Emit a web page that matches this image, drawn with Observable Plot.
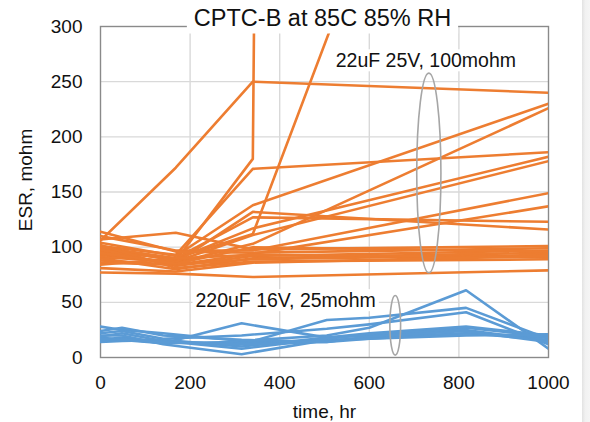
<!DOCTYPE html>
<html>
<head>
<meta charset="utf-8">
<script src="https://cdn.jsdelivr.net/npm/d3@7"></script>
<script src="https://cdn.jsdelivr.net/npm/@observablehq/plot@0.6"></script>
<style>
  html, body { margin: 0; padding: 0; background: #fff; }
  #chart { position: relative; width: 590px; height: 422px; overflow: hidden; }
  #chart .edge { position: absolute; top: 0; right: 0; width: 8px; height: 422px;
    background: linear-gradient(to right, #e2e2e2, #f1f1f1 40%, #f5f5f5); }
</style>
</head>
<body>
<div id="chart"><div class="edge"></div></div>
<script>
// Test hours at which ESR was read for each part type
const hours22uF = [0, 168, 340, 1000];
const hours220uF = [0, 48, 140, 315, 505, 600, 816, 1000];

// ESR (mohm) per sample, 22uF 25V parts (100 mohm rated)
const esr22uF = [
  [106, 172, 250, 240],
  [99, 88, 180, 30000],
  [96, 90, 112, 820],
  [101, 93, 171, 186],
  [104, 92, 138, 230],
  [93, 86, 103, 226],
  [97, 89, 117, 182],
  [91, 87, 111, 178],
  [110, 97, 97, 149],
  [88, 84, 94, 137],
  [100, 90, 127, 123],
  [94, 86, 132, 116],
  [107, 113, 98, 101],
  [114, 96, 95, 99],
  [98, 83, 92, 97],
  [90, 80, 90, 95],
  [86, 84, 89, 93],
  [84, 90, 93, 91],
  [102, 81, 87, 89],
  [81, 78, 86, 92],
  [77, 76, 73, 79],
  [95, 85, 100, 96]
];

// ESR (mohm) per sample, 220uF 16V parts (25 mohm rated)
const esr220uF = [
  [28, 25, 22, 15, 20, 27, 61, 8],
  [16, 18, 14, 12, 34, 36, 45, 17],
  [22, 24, 17, 20, 26, 30, 41, 12],
  [18, 16, 13, 31, 18, 20, 27, 19],
  [20, 20, 12, 3, 16, 17, 22, 18],
  [14, 15, 16, 10, 18, 22, 28, 20],
  [19, 22, 15, 8, 17, 21, 25, 15],
  [15, 17, 13, 14, 15, 18, 22, 16],
  [17, 16, 14, 12, 14, 19, 24, 14],
  [24, 27, 20, 16, 14, 17, 20, 21]
];

const xTicks = [0, 200, 400, 600, 800, 1000];
const yTicks = [0, 50, 100, 150, 200, 250, 300];

const titleText = "CPTC-B at 85C 85% RH";
const xTitle = "time, hr";
const yTitle = "ESR, mohm";

// Group captions (hours, mohm) and the rings that mark each group
const groupLabels = [
  {t: 525, esr: 263, text: "22uF 25V, 100mohm"},
  {t: 212, esr: 45.6, text: "220uF 16V, 25mohm"}
];
const groupRings = [
  {t: 734, esr: 166.8, dt: 27, desr: 90.5},
  {t: 659, esr: 28.7, dt: 12, desr: 27}
];

const toRows = (hours, series) =>
  series.flatMap((vals, id) => vals.map((esr, i) => ({id, t: hours[i], esr})));
const rows22 = toRows(hours22uF, esr22uF);
const rows220 = toRows(hours220uF, esr220uF);

function ringMark(index, scales) {
  const {x, y} = scales;
  const g = d3.create("svg:g")
    .attr("fill", "none")
    .attr("stroke", "#a6a6a6")
    .attr("stroke-width", 1.6);
  for (const r of groupRings) {
    g.append("ellipse")
      .attr("cx", x(r.t))
      .attr("cy", y(r.esr))
      .attr("rx", Math.abs(x(r.t + r.dt) - x(r.t)))
      .attr("ry", Math.abs(y(r.esr - r.desr) - y(r.esr)));
  }
  return g.node();
}

const font = "'Liberation Sans', Arial, Helvetica, sans-serif";

const plot = Plot.plot({
  width: 590,
  height: 422,
  marginLeft: 100,
  marginRight: 42,
  marginTop: 26,
  marginBottom: 65,
  style: {fontFamily: font, fontSize: "19px", color: "#111", background: "transparent", overflow: "visible"},
  x: {domain: [0, 1000], ticks: xTicks, tickFormat: d => String(d), tickSize: 0, tickPadding: 18, label: null},
  y: {domain: [0, 300], ticks: yTicks, tickFormat: d => String(d), tickSize: 0, tickPadding: 18, label: null},
  marks: [
    Plot.ruleX(xTicks.slice(1, -1), {stroke: "#d9d9d9", strokeWidth: 1.4}),
    Plot.ruleY(yTicks.slice(1, -1), {stroke: "#d9d9d9", strokeWidth: 1.4}),
    Plot.frame({stroke: "#8a8a8a", strokeWidth: 1.4}),
    Plot.line(rows22, {x: "t", y: "esr", z: "id", stroke: "#ED7D31", strokeWidth: 2.6, clip: true}),
    Plot.line(rows220, {x: "t", y: "esr", z: "id", stroke: "#5B9BD5", strokeWidth: 2.6, clip: true}),
    ringMark,
    Plot.text(groupLabels, {x: "t", y: "esr", text: "text", textAnchor: "start", lineAnchor: "bottom", fontSize: 19.5, fill: "#111"}),
    Plot.text([titleText], {frameAnchor: "top", text: d => d, lineAnchor: "bottom", dx: -2, dy: -1, fontSize: 23.5, fill: "#111"}),
    Plot.text([xTitle], {frameAnchor: "bottom", text: d => d, lineAnchor: "bottom", dy: 60, fontSize: 19, fill: "#111"})
  ]
});

// Vertical axis title, set left of the tick labels
d3.select(plot).append("text")
  .attr("transform", "translate(32,180) rotate(-90)")
  .attr("text-anchor", "middle")
  .attr("font-size", 19)
  .attr("fill", "#111")
  .text(yTitle);

const host = document.getElementById("chart");
host.insertBefore(plot, host.firstChild);

// White panels behind the title and group captions, sized from the rendered text
const boxed = new Map([
  [titleText, {px: 7, top: 4, bottom: 3}],
  [groupLabels[0].text, {px: 2, top: 0, bottom: 0}],
  [groupLabels[1].text, {px: 3, top: 0, bottom: 0}]
]);
const svgBox = plot.getBoundingClientRect();
for (const node of plot.querySelectorAll("text")) {
  const pad = boxed.get(node.textContent);
  if (!pad) continue;
  const b = node.getBoundingClientRect();
  const rect = document.createElementNS("http://www.w3.org/2000/svg", "rect");
  rect.setAttribute("x", b.left - svgBox.left - pad.px);
  rect.setAttribute("y", b.top - svgBox.top - pad.top);
  rect.setAttribute("width", b.width + 2 * pad.px);
  rect.setAttribute("height", b.height + pad.top + pad.bottom);
  rect.setAttribute("fill", "#fff");
  const group = node.closest("g");
  group.parentNode.insertBefore(rect, group);
}
</script>
</body>
</html>
